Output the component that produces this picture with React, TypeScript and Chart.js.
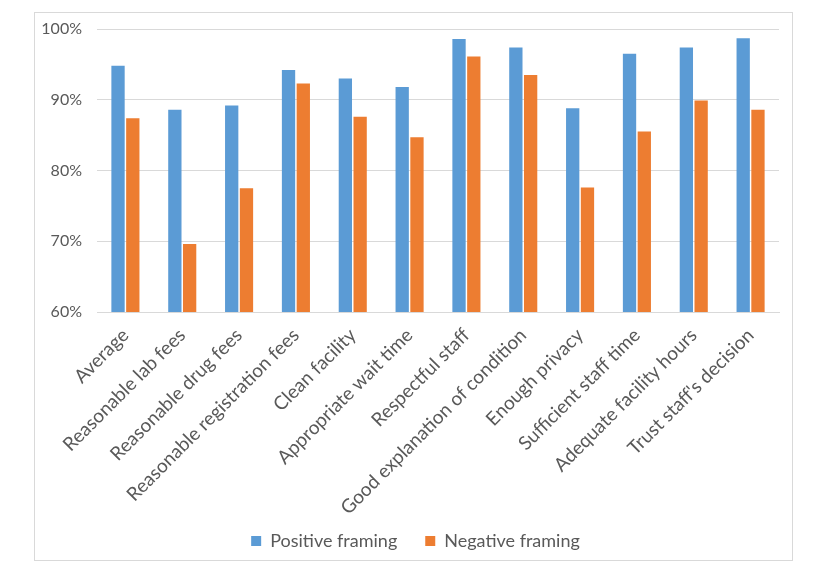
import React, { useEffect, useRef } from "react";
import { Chart, registerables } from "chart.js";

Chart.register(...registerables);

const categories = [
  "Average",
  "Reasonable lab fees",
  "Reasonable drug fees",
  "Reasonable registration fees",
  "Clean facility",
  "Appropriate wait time",
  "Respectful staff",
  "Good explanation of condition",
  "Enough privacy",
  "Sufficient staff time",
  "Adequate facility hours",
  "Trust staff's decision",
];

const positiveFraming = [94.8, 88.6, 89.2, 94.2, 93.0, 91.8, 98.6, 97.4, 88.8, 96.5, 97.4, 98.7];
const negativeFraming = [87.4, 69.6, 77.5, 92.3, 87.6, 84.7, 96.1, 93.5, 77.6, 85.5, 89.9, 88.6];

const yMin = 60;
const yMax = 100;
const yStep = 10;

const FONT = "Lato, 'Liberation Sans', sans-serif";
const TEXT = "#595959";
const GRID = "#d9d9d9";

export default function App() {
  const ref = useRef<HTMLCanvasElement | null>(null);

  useEffect(() => {
    document.body.style.margin = "0";
    const canvas = ref.current;
    if (!canvas) return;
    const chart = new Chart(canvas, {
      type: "bar",
      data: {
        labels: categories,
        datasets: [
          {
            label: "Positive framing",
            data: positiveFraming,
            backgroundColor: "#5B9BD5",
            categoryPercentage: 0.52,
            barPercentage: 0.9,
          },
          {
            label: "Negative framing",
            data: negativeFraming,
            backgroundColor: "#ED7D31",
            categoryPercentage: 0.52,
            barPercentage: 0.9,
          },
        ],
      },
      options: {
        animation: false,
        responsive: false,
        maintainAspectRatio: false,
        layout: { padding: { left: 52, right: 37, top: 29, bottom: 9 } },
        plugins: {
          tooltip: { enabled: false },
          legend: {
            position: "bottom",
            labels: {
              font: { family: FONT, size: 18 },
              color: TEXT,
              boxWidth: 10,
              boxHeight: 10,
              padding: 28,
            },
          },
        },
        scales: {
          x: {
            grid: { display: false },
            border: { display: true, color: GRID, width: 1 },
            ticks: {
              autoSkip: false,
              maxRotation: 45,
              minRotation: 45,
              color: TEXT,
              font: { family: FONT, size: 19 },
              padding: 4,
            },
            afterFit: (s: any) => {
              s.height = 192;
              s._computeLabelArea = () => undefined;
            },
          },
          y: {
            min: yMin,
            max: yMax,
            grid: { color: GRID, drawTicks: false, lineWidth: 1 },
            border: { display: false },
            ticks: {
              stepSize: yStep,
              color: TEXT,
              font: { family: FONT, size: 16 },
              padding: 15,
              callback: (v: any) => `${v}%`,
            },
            afterFit: (s: any) => {
              s.width = 45;
              s._computeLabelArea = () => undefined;
            },
          },
        },
      },
    });
    return () => chart.destroy();
  }, []);

  return (
    <div style={{ position: "relative", width: 816, height: 569, background: "#fff" }}>
      <canvas ref={ref} width={816} height={569} style={{ position: "absolute", left: 0, top: 0 }} />
      <div
        style={{
          position: "absolute",
          left: 34,
          top: 12,
          width: 757,
          height: 547,
          border: "1px solid #d9d9d9",
          pointerEvents: "none",
        }}
      />
    </div>
  );
}
